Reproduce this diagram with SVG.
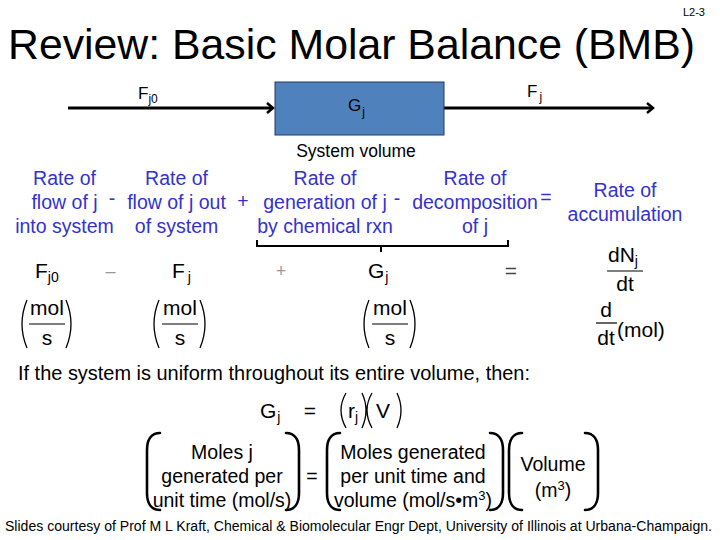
<svg xmlns="http://www.w3.org/2000/svg" width="720" height="540" viewBox="0 0 720 540">
<defs>
<marker id="arr" markerWidth="14" markerHeight="14" refX="11" refY="7" orient="auto" markerUnits="userSpaceOnUse">
<path d="M5,2 L11,7 L5,12" fill="none" stroke="#000" stroke-width="2.5"/>
</marker>
</defs>
<style>
text{font-family:"Liberation Sans",Arial,sans-serif;fill:#000}
.blue{fill:#3333CC;font-size:19.5px;text-anchor:middle}
.bop{fill:#3333CC;font-size:19.5px;text-anchor:middle}
.eq{font-size:21px}
.sub{font-size:14px}
.gop{fill:#999;font-size:18px;text-anchor:middle}
.c{text-anchor:middle}
.paren{fill:none;stroke:#000;stroke-width:1.3}
.bp{fill:none;stroke:#000;stroke-width:2.6;stroke-linecap:round}
.frac{stroke:#000;stroke-width:1.2}
.txt{font-size:19.5px;text-anchor:middle}
</style>
<rect width="720" height="540" fill="#fff"/>
<text x="705" y="16" font-size="11" text-anchor="end">L2-3</text>
<text x="8" y="59" font-size="43" textLength="687" lengthAdjust="spacingAndGlyphs">Review: Basic Molar Balance (BMB)</text>

<g id="connectors">
<line x1="68" y1="108" x2="273" y2="108" stroke="#000" stroke-width="3" marker-end="url(#arr)"/>
<line x1="444" y1="108" x2="653" y2="108" stroke="#000" stroke-width="3" marker-end="url(#arr)"/>
</g>
<g id="label-fj0"><text x="138" y="99" font-size="17">F<tspan font-size="12" dy="4">j0</tspan></text></g>
<g id="label-fj"><text x="527" y="97" font-size="17">F<tspan font-size="12" dy="4" dx="2">j</tspan></text></g>
<g id="system">
<rect x="275" y="82" width="169" height="53" fill="#4F81BD" stroke="#1F3A5F" stroke-width="1"/>
<text x="348" y="111" font-size="17">G<tspan font-size="12" dy="5" dx="1">j</tspan></text>
<text x="356" y="157" font-size="17.5" class="c">System volume</text>
</g>

<g id="word-equation">
<text class="blue" x="64.5" y="185">Rate of</text>
<text class="blue" x="64.5" y="209">flow of j</text>
<text class="blue" x="64.5" y="233">into system</text>
<text class="bop" x="112" y="205">-</text>
<text class="blue" x="176.5" y="185">Rate of</text>
<text class="blue" x="176.5" y="209">flow of j out</text>
<text class="blue" x="176.5" y="233">of system</text>
<text class="bop" x="243" y="208">+</text>
<text class="blue" x="325" y="185">Rate of</text>
<text class="blue" x="325" y="209">generation of j</text>
<text class="blue" x="325" y="233">by chemical rxn</text>
<text class="bop" x="397" y="205">-</text>
<text class="blue" x="475" y="185">Rate of</text>
<text class="blue" x="475" y="209">decomposition</text>
<text class="blue" x="475" y="233">of j</text>
<text class="bop" x="546" y="204">=</text>
<text class="blue" x="625" y="197">Rate of</text>
<text class="blue" x="625" y="221">accumulation</text>
<path d="M257,240 L257,246 L508,246 L508,240 M381,246 L381,252" fill="none" stroke="#000" stroke-width="2"/>
</g>

<g id="symbol-equation">
<text class="eq" x="35" y="278">F<tspan class="sub" dy="4">j0</tspan></text>
<text class="gop" x="110.5" y="277">–</text>
<text class="eq" x="172" y="278">F<tspan class="sub" dy="4" dx="3">j</tspan></text>
<text class="gop" x="281" y="277">+</text>
<text class="eq" x="368" y="278">G<tspan class="sub" dy="4" dx="1">j</tspan></text>
<text class="eq c" x="511" y="278" fill="#444" style="fill:#444">=</text>
<text class="eq" x="608" y="262">dN<tspan class="sub" dy="4">j</tspan></text>
<line class="frac" x1="607" y1="271" x2="643" y2="271"/>
<text class="eq c" x="625" y="291">dt</text>

<path class="paren" d="M27,300 Q17,324 27,348 M66,300 Q76,324 66,348"/>
<text class="eq c" x="47" y="315">mol</text>
<line class="frac" x1="29" y1="324" x2="65" y2="324"/>
<text class="eq c" x="47" y="345">s</text>

<path class="paren" d="M159,300 Q149,324 159,348 M200,300 Q210,324 200,348"/>
<text class="eq c" x="180" y="315">mol</text>
<line class="frac" x1="162" y1="324" x2="198" y2="324"/>
<text class="eq c" x="180" y="345">s</text>

<path class="paren" d="M369,300 Q359,324 369,348 M410,300 Q420,324 410,348"/>
<text class="eq c" x="390" y="315">mol</text>
<line class="frac" x1="372" y1="324" x2="408" y2="324"/>
<text class="eq c" x="390" y="345">s</text>

<text class="eq c" x="606" y="317">d</text>
<line class="frac" x1="596" y1="323" x2="617" y2="323"/>
<text class="eq c" x="606" y="345">dt</text>
<text class="eq" x="617" y="337">(mol)</text>
</g>

<text x="18" y="380" font-size="20" textLength="512" lengthAdjust="spacingAndGlyphs">If the system is uniform throughout its entire volume, then:</text>

<g id="gj-equation">
<text class="eq" x="260" y="418">G<tspan class="sub" dy="4" dx="1">j</tspan></text>
<text class="eq c" x="310" y="418">=</text>
<path class="paren" d="M346,393 Q336,410 346,428 M362,393 Q370,410 362,428 M372,393 Q362,410 372,428 M397,393 Q405,410 397,428"/>
<text class="eq" x="348" y="418">r<tspan class="sub" dy="4">j</tspan></text>
<text class="eq" x="376" y="418">V</text>
</g>

<g id="units-equation">
<path class="bp" d="M160,433 C151,433 147,440 147,450 L147,493 C147,503 151,510 160,510"/>
<path class="bp" d="M286,433 C295,433 299,440 299,450 L299,493 C299,503 295,510 286,510"/>
<text class="txt" x="222" y="459">Moles j</text>
<text class="txt" x="222" y="483">generated per</text>
<text class="txt" x="222" y="507">unit time (mol/s)</text>
<text class="txt" x="312" y="483">=</text>
<path class="bp" d="M340,433 C331,433 327,440 327,450 L327,493 C327,503 331,510 340,510"/>
<path class="bp" d="M490,433 C499,433 503,440 503,450 L503,493 C503,503 499,510 490,510"/>
<text class="txt" x="413" y="459">Moles generated</text>
<text class="txt" x="413" y="483">per unit time and</text>
<text class="txt" x="413" y="507">volume (mol/s•m<tspan font-size="13" dy="-7">3</tspan><tspan dy="7">)</tspan></text>
<path class="bp" d="M522,433 C513,433 509,440 509,450 L509,493 C509,503 513,510 522,510"/>
<path class="bp" d="M585,433 C594,433 598,440 598,450 L598,493 C598,503 594,510 585,510"/>
<text class="txt" x="553" y="471">Volume</text>
<text class="txt" x="553" y="497">(m<tspan font-size="13" dy="-7">3</tspan><tspan dy="7">)</tspan></text>
</g>

<text x="5" y="531" font-size="14" textLength="707" lengthAdjust="spacingAndGlyphs">Slides courtesy of Prof M L Kraft, Chemical &amp; Biomolecular Engr Dept, University of Illinois at Urbana-Champaign.</text>
</svg>
